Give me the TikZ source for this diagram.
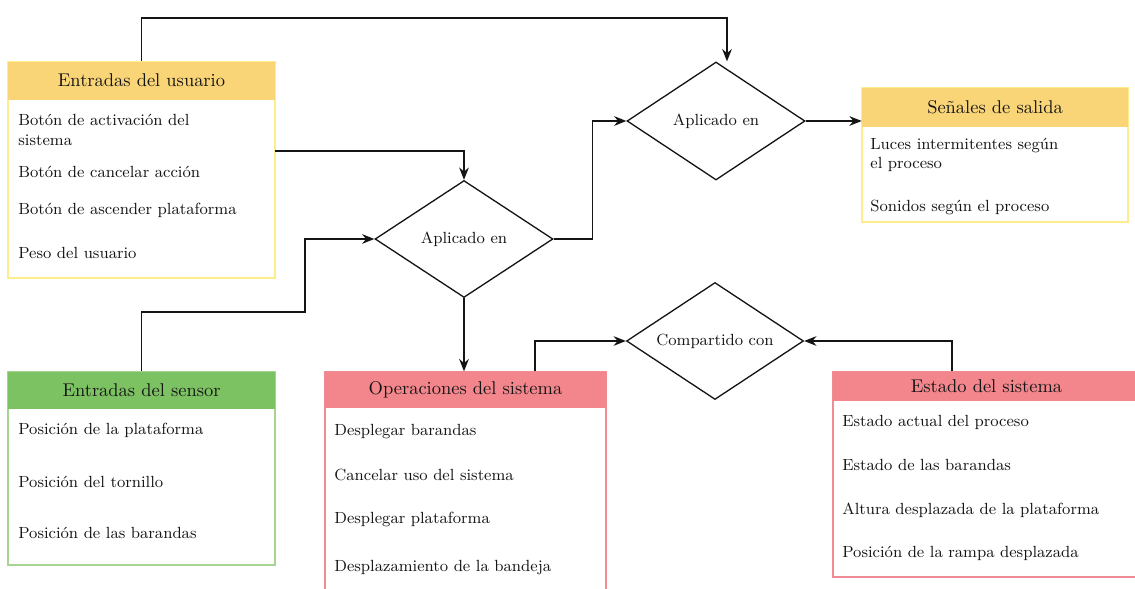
\documentclass[tikz,border=0pt]{standalone}
\usetikzlibrary{arrows.meta, shapes.geometric, calc}

\definecolor{yelhead}{RGB}{249,213,120}
\definecolor{yelline}{RGB}{255,236,140}
\definecolor{grnhead}{RGB}{124,194,98}
\definecolor{grnline}{RGB}{168,212,146}
\definecolor{redhead}{RGB}{242,134,140}
\definecolor{redline}{RGB}{240,140,148}
\definecolor{ink}{RGB}{20,20,20}

\tikzset{
  frame/.style={draw, line width=.8pt, inner sep=0pt},
  head/.style={anchor=north, inner sep=0pt, text=ink, font=\fontsize{10.5}{12}\selectfont},
  item/.style={anchor=west, align=left, inner sep=0pt, text=ink, font=\fontsize{9.2}{11}\selectfont},
  decision/.style={draw=ink, diamond, aspect=2, line width=.75pt, inner sep=0pt, text=ink, font=\fontsize{9.2}{11}\selectfont},
  link/.style={draw=ink, line width=.8pt, -{Stealth[length=7pt,width=5.5pt]}}
}

\begin{document}
\begin{tikzpicture}[x=0.02cm, y=-0.02cm]
        \useasboundingbox (0,0) rectangle (1135,588);
        \clip (0,0) rectangle (1135,588);

        % entradas del usuario
        \node[frame, draw=yelline, minimum width=5.34cm, minimum height=4.32cm] (usr) at (141.5,170) {};
        \node[head, fill=yelhead, minimum width=5.34cm, minimum height=0.76cm] (usrh) at (usr.north) {Entradas del usuario};
        \node[item] (usr1) at (18,130) {Botón de activación del\\sistema};
        \node[item] (usr2) at (18,172) {Botón de cancelar acción};
        \node[item] (usr3) at (18,210) {Botón de ascender plataforma};
        \node[item] (usr4) at (18,253) {Peso del usuario};

        % senales de salida
        \node[frame, draw=yelline, minimum width=5.32cm, minimum height=2.68cm] (sal) at (995,155) {};
        \node[head, fill=yelhead, minimum width=5.32cm, minimum height=0.78cm] (salh) at (sal.north) {Señales de salida};
        \node[item] (sal1) at (870,155) {Luces intermitentes según\\el proceso};
        \node[item] (sal2) at (870,207) {Sonidos según el proceso};

        % entradas del sensor
        \node[frame, draw=grnline, minimum width=5.34cm, minimum height=3.86cm] (sen) at (141.5,468.5) {};
        \node[head, fill=grnhead, minimum width=5.34cm, minimum height=0.74cm] (senh) at (sen.north) {Entradas del sensor};
        \node[item] (sen1) at (18,430) {Posición de la plataforma};
        \node[item] (sen2) at (18,482) {Posición del tornillo};
        \node[item] (sen3) at (18,533) {Posición de las barandas};

        % operaciones del sistema
        \node[frame, draw=redline, minimum width=5.62cm, minimum height=4.56cm] (ope) at (465.5,486) {};
        \node[head, fill=redhead, minimum width=5.62cm, minimum height=0.72cm] (opeh) at (ope.north) {Operaciones del sistema};
        \node[item] (ope1) at (334,432) {Desplegar barandas};
        \node[item] (ope2) at (334,475) {Cancelar uso del sistema};
        \node[item] (ope3) at (334,519) {Desplegar plataforma};
        \node[item] (ope4) at (334,568) {Desplazamiento de la bandeja};

        % estado del sistema
        \node[frame, draw=redline, minimum width=6.14cm, minimum height=4.1cm] (est) at (986.5,474.5) {};
        \node[head, fill=redhead, minimum width=6.14cm, minimum height=0.58cm] (esth) at (est.north) {Estado del sistema};
        \node[item] (est1) at (842,422) {Estado actual del proceso};
        \node[item] (est2) at (842,465) {Estado de las barandas};
        \node[item] (est3) at (842,510) {Altura desplazada de la plataforma};
        \node[item] (est4) at (842,553) {Posición de la rampa desplazada};

        % decisiones
        \node[decision, minimum width=3.56cm, minimum height=2.34cm] (ap1) at (464,239) {Aplicado en};
        \node[decision, minimum width=3.56cm, minimum height=2.36cm] (ap2) at (716,121) {Aplicado en};
        \node[decision, minimum width=3.54cm, minimum height=2.34cm] (comp) at (715,341) {Compartido con};

        % conexiones
        \coordinate (top) at (727,18);
        \coordinate (usrout) at (275,151);
        \coordinate (senbend) at (305,312);
        \draw[link] (usrh.north) |- (top) -- (top |- ap2.north);
        \draw[link] (usrout) -| (ap1.north);
        \draw[link] (senh.north) |- (senbend) |- (ap1.west);
        \draw[link] (ap1.east) -- ++(39,0) |- (ap2.west);
        \draw[link] (ap2.east) -- (ap2.east -| salh.west);
        \draw[link] (ap1.south) -- (ap1.south |- opeh.north);
        \draw[link] ($(opeh.north)+(69.5,0)$) |- (comp.west);
        \draw[link] ($(esth.north)+(-34.5,0)$) |- (comp.east);
    \end{tikzpicture}
\end{document}
